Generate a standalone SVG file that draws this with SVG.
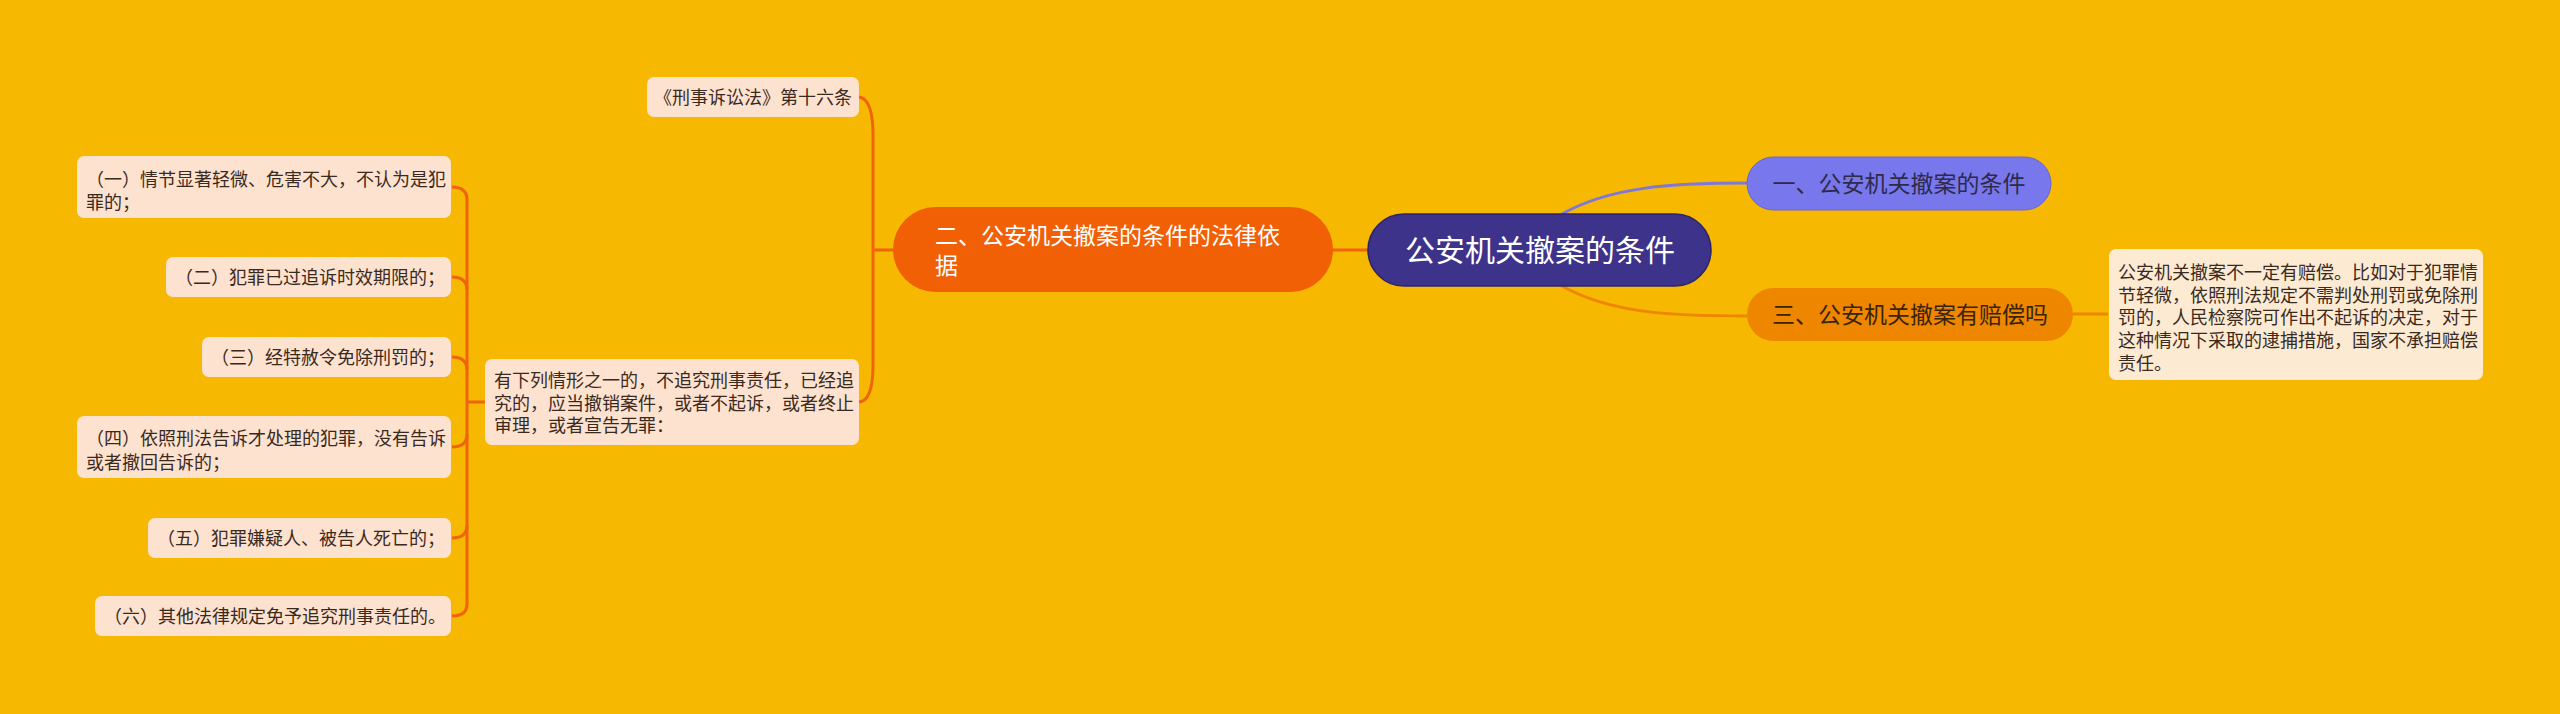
<svg xmlns="http://www.w3.org/2000/svg" width="2560" height="714" viewBox="0 0 2560 714">
<style>
text{font-family:"Noto Sans CJK SC","Noto Sans",sans-serif;}
.root{fill:#3d338a;stroke:#2c2468;stroke-width:1.5;}
.rootT{fill:#ffffff;font-size:30px;text-anchor:middle;}
.l1T{font-size:23px;}
.leaf{fill:#fde2cf;}
.leafR{fill:#fdead2;}
.leafT{fill:#3a2a1e;font-size:18px;}
.edge{fill:none;stroke:#ef640c;stroke-width:3;}
</style>
<rect width="2560" height="714" fill="#f6b800"/>
<g id="connectors">
  <path d="M1562,214 C1610,187 1670,183 1747,183" fill="none" stroke="#7e78d8" stroke-width="3"/>
  <path d="M1562,286 C1610,313 1670,316 1747,316" fill="none" stroke="#ee8600" stroke-width="3"/>
  <path d="M2073,314 H2108" fill="none" stroke="#ee8600" stroke-width="3"/>
  <path class="edge" d="M1368,250 H1333"/>
  <path class="edge" d="M893,250 H873"/>
  <path class="edge" d="M859,97 Q873,99 873,135 V365 Q873,401 859,402"/>
  <path class="edge" d="M485,402 H467"/>
  <path class="edge" d="M452,187 Q467,187 467,200 V604 Q467,616 452,616"/>
  <path class="edge" d="M452,277 Q467,277 467,290"/>
  <path class="edge" d="M452,357 Q467,357 467,370"/>
  <path class="edge" d="M452,447 Q467,447 467,434"/>
  <path class="edge" d="M452,538 Q467,538 467,525"/>
</g>
<g id="root">
  <rect class="root" x="1368" y="214" width="343" height="72" rx="36"/>
  <text class="rootT" x="1540" y="261">公安机关撤案的条件</text>
</g>
<g id="n1">
  <rect x="1747" y="157" width="304" height="53" rx="26.5" fill="#7877ec" stroke="#6a66d2" stroke-width="1"/>
  <text class="l1T" x="1899" y="192" text-anchor="middle" fill="#2e2a4a">一、公安机关撤案的条件</text>
</g>
<g id="n3">
  <rect x="1747" y="288" width="326" height="53" rx="26.5" fill="#ee8600"/>
  <text class="l1T" x="1910" y="323" text-anchor="middle" fill="#3a2405">三、公安机关撤案有赔偿吗</text>
</g>
<g id="n3a">
  <rect class="leafR" x="2109" y="249" width="374" height="131" rx="7"/>
  <text class="leafT" x="2118" y="279">公安机关撤案不一定有赔偿。比如对于犯罪情</text>
  <text class="leafT" x="2118" y="302">节轻微，依照刑法规定不需判处刑罚或免除刑</text>
  <text class="leafT" x="2118" y="324">罚的，人民检察院可作出不起诉的决定，对于</text>
  <text class="leafT" x="2118" y="347">这种情况下采取的逮捕措施，国家不承担赔偿</text>
  <text class="leafT" x="2118" y="370">责任。</text>
</g>
<g id="n2">
  <rect x="893" y="207" width="440" height="85" rx="42.5" fill="#f26006"/>
  <text class="l1T" x="935" y="244" fill="#ffffff">二、公安机关撤案的条件的法律依</text>
  <text class="l1T" x="935" y="274" fill="#ffffff">据</text>
</g>
<g id="n2a">
  <rect class="leaf" x="647" y="77" width="212" height="40" rx="7"/>
  <text class="leafT" x="753" y="104" text-anchor="middle">《刑事诉讼法》第十六条</text>
</g>
<g id="n2b">
  <rect class="leaf" x="485" y="359" width="374" height="86" rx="7"/>
  <text class="leafT" x="494" y="387">有下列情形之一的，不追究刑事责任，已经追</text>
  <text class="leafT" x="494" y="410">究的，应当撤销案件，或者不起诉，或者终止</text>
  <text class="leafT" x="494" y="432">审理，或者宣告无罪：</text>
</g>
<g id="c1">
  <rect class="leaf" x="77" y="156" width="374" height="62" rx="7"/>
  <text class="leafT" x="86" y="186">（一）情节显著轻微、危害不大，不认为是犯</text>
  <text class="leafT" x="86" y="209">罪的；</text>
</g>
<g id="c2">
  <rect class="leaf" x="166" y="257" width="285" height="40" rx="7"/>
  <text class="leafT" x="175" y="284">（二）犯罪已过追诉时效期限的；</text>
</g>
<g id="c3">
  <rect class="leaf" x="202" y="337" width="249" height="40" rx="7"/>
  <text class="leafT" x="211" y="364">（三）经特赦令免除刑罚的；</text>
</g>
<g id="c4">
  <rect class="leaf" x="77" y="416" width="374" height="62" rx="7"/>
  <text class="leafT" x="86" y="445">（四）依照刑法告诉才处理的犯罪，没有告诉</text>
  <text class="leafT" x="86" y="469">或者撤回告诉的；</text>
</g>
<g id="c5">
  <rect class="leaf" x="148" y="518" width="303" height="40" rx="7"/>
  <text class="leafT" x="157" y="545">（五）犯罪嫌疑人、被告人死亡的；</text>
</g>
<g id="c6">
  <rect class="leaf" x="95" y="596" width="356" height="40" rx="7"/>
  <text class="leafT" x="104" y="623">（六）其他法律规定免予追究刑事责任的。</text>
</g>
</svg>
